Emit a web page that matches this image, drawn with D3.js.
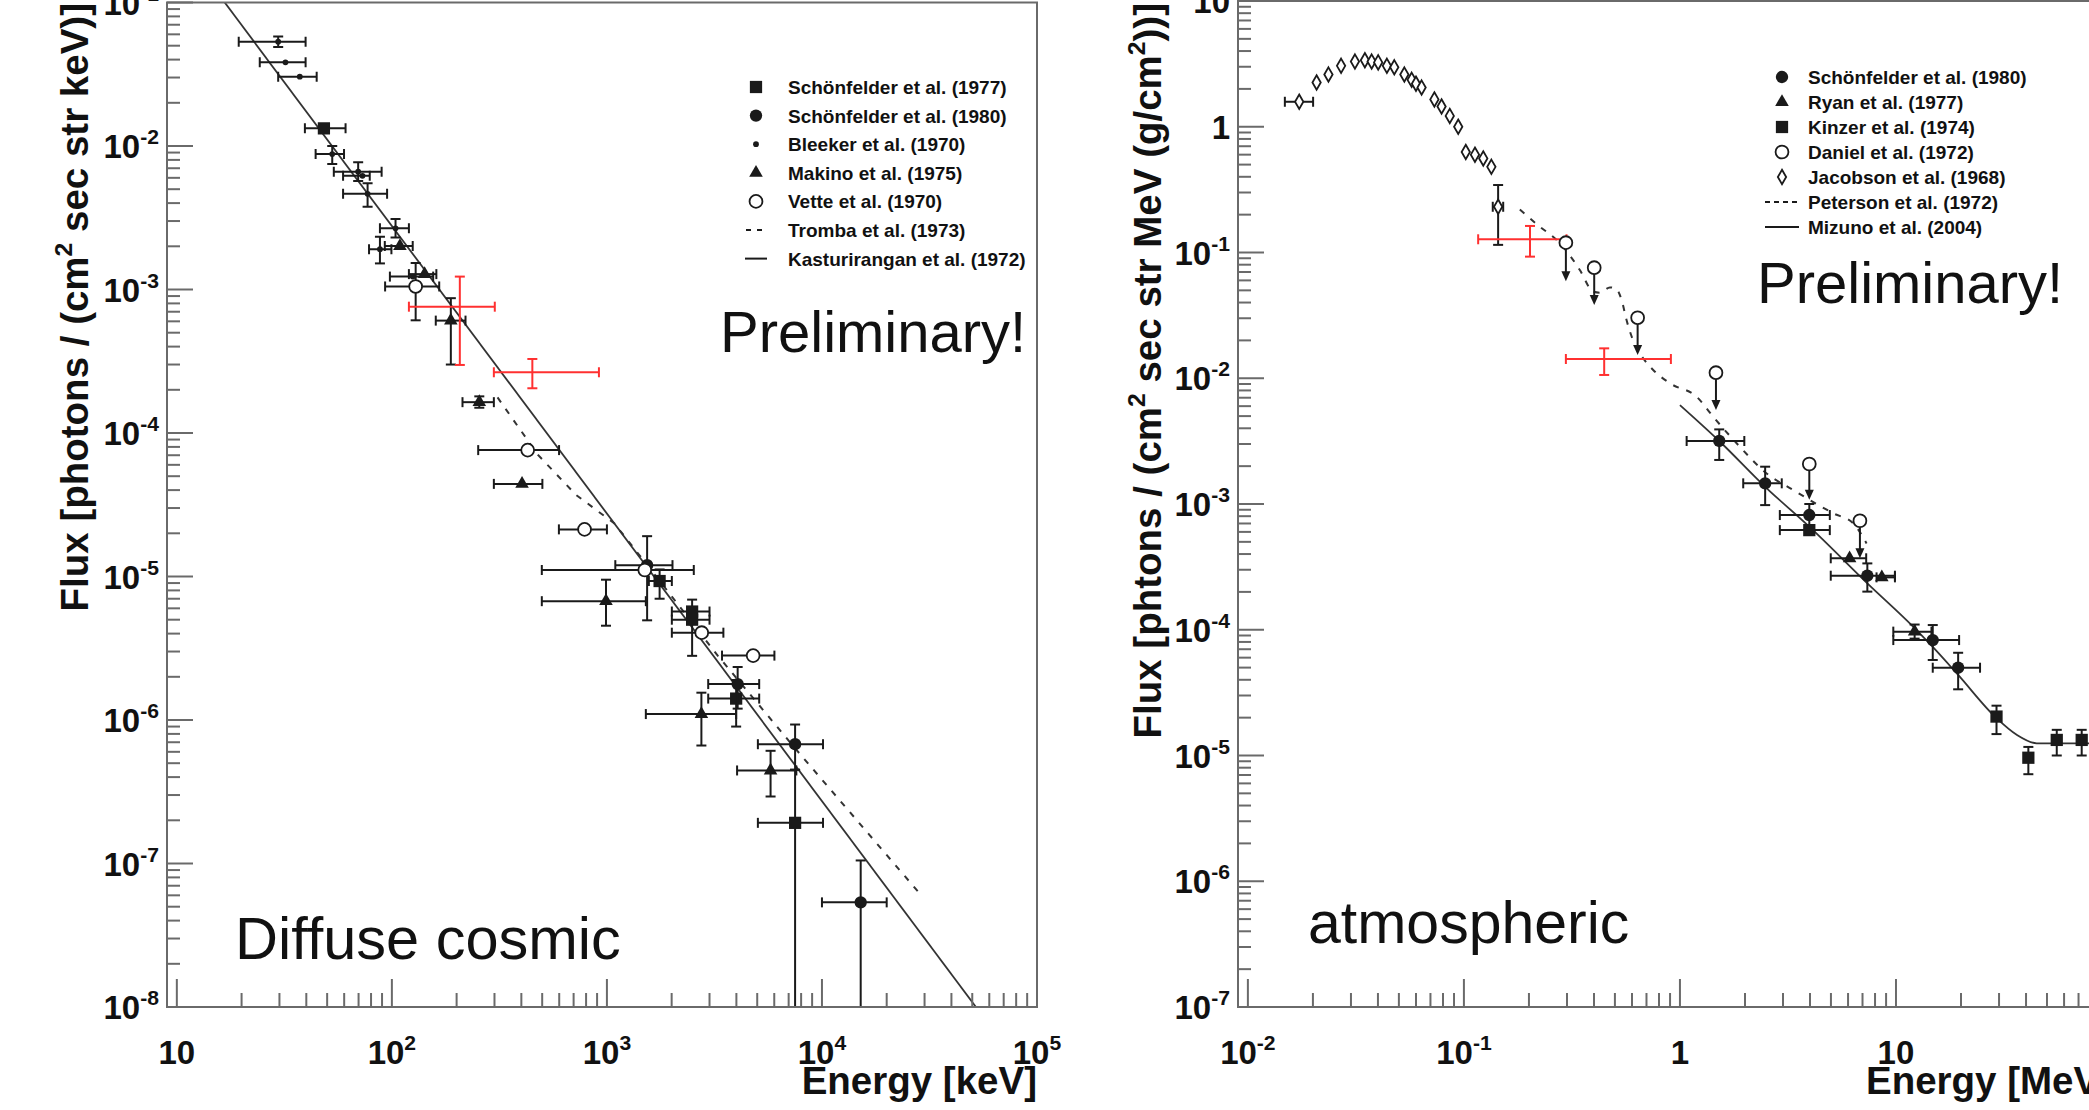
<!DOCTYPE html>
<html><head><meta charset="utf-8">
<script src="https://cdn.jsdelivr.net/npm/d3@7"></script>
<style>
html,body{margin:0;padding:0;background:#fff;overflow:hidden}
svg{display:block}
text{font-family:"Liberation Sans",Arial,Helvetica,sans-serif;fill:#111}
</style></head><body>
<svg id="chart" width="2089" height="1110"></svg>
<script>
// ===== Diffuse cosmic gamma rays (energy in keV) =====
// rows: [E, flux, Emin, Emax, fluxMin, fluxMax]; null = no bar
const schoenfelder1977 = [
  [48.3, 0.01327, 39.4, 60.9, null, null],
  [1758, 9.3e-6, 1567, 2004, 7.0e-6, 1.12e-5],
  [2490, 5.7e-6, 2004, 3000, null, null],
  [2490, 5.0e-6, 2004, 3000, 2.8e-6, 6.9e-6],
  [3990, 1.41e-6, 2958, 5106, 9.0e-7, 1.9e-6],
  [7500, 1.92e-7, 5035, 10115, 1e-9, 4.5e-7]
];
const schoenfelder1980 = [
  [1538, 1.2e-5, 1094, 2018, 4.95e-6, 1.91e-5],
  [4055, 1.78e-6, 2958, 5106, 1.2e-6, 2.34e-6],
  [7500, 6.78e-7, 5035, 10115, 4.5e-7, 9.3e-7],
  [15140, 5.36e-8, 10000, 20000, 1e-9, 1.05e-7]
];
const bleeker1970 = [
  [29.6, 0.0533, 19.4, 39.7, 0.049, 0.058],
  [32.0, 0.0383, 24.3, 39.7, null, null],
  [37.3, 0.0304, 29.6, 44.7, null, null],
  [52.8, 0.00879, 44.2, 59.9, 0.0075, 0.0100],
  [69.7, 0.00662, 53.7, 89.6, 0.0057, 0.0077],
  [73.0, 0.00620, 59.3, 78.9, null, null],
  [77.1, 0.00464, 59.3, 95.0, 0.00377, 0.0055],
  [104, 0.00267, 88.0, 120, 0.0023, 0.0031],
  [88.0, 0.00191, 78.3, 99.5, 0.00152, 0.00233],
  [125, 0.00123, 97.9, 155.6, null, null]
];
const makino1975 = [
  [109, 0.00201, 92.7, 125, null, null],
  [142, 0.00128, 120, 161, null, null],
  [188, 6.07e-4, 160, 220, 3.0e-4, 8.7e-4],
  [255, 1.64e-4, 213, 298, 1.5e-4, 1.8e-4],
  [403, 4.42e-5, 298, 501, null, null],
  [990, 6.73e-6, 498, 1517, 4.54e-6, 9.5e-6],
  [2750, 1.1e-6, 1517, 3990, 6.64e-7, 1.55e-6],
  [5768, 4.45e-7, 4030, 7600, 2.93e-7, 6.1e-7]
];
const vette1970 = [
  [129, 1.05e-3, 93, 166, 6.1e-4, 1.53e-3],
  [428, 7.6e-5, 252, 599, null, null],
  [787, 2.13e-5, 598, 1000, null, null],
  [1500, 1.11e-5, 498, 2535, null, null],
  [2760, 4.06e-6, 2004, 3480, null, null],
  [4786, 2.81e-6, 3430, 6010, null, null]
];
const cosmicThisWork = [
  [207, 7.59e-4, 120, 301, 2.98e-4, 1.23e-3],
  [450, 2.65e-4, 298, 918, 2.05e-4, 3.28e-4]
];
// model curves: [E, flux]
const tromba1973 = [
  [310, 1.77e-4], [477, 7.06e-5], [719, 3.7e-5], [1084, 2.34e-5], [1846, 8.5e-6],
  [3275, 2.81e-6], [7430, 6.45e-7], [28780, 6.07e-8]
];
const kasturirangan1972 = [[16.7, 1e-1], [52000, 1e-8]];

const cosmicXTicks = [1e1, 1e2, 1e3, 1e4, 1e5];
const cosmicXLabels = [["10", ""], ["10", "2"], ["10", "3"], ["10", "4"], ["10", "5"]];
const cosmicYTicks = [1e-8, 1e-7, 1e-6, 1e-5, 1e-4, 1e-3, 1e-2, 1e-1];
const cosmicYLabels = [["10", "-8"], ["10", "-7"], ["10", "-6"], ["10", "-5"], ["10", "-4"], ["10", "-3"], ["10", "-2"], ["10", "-1"]];
const cosmicLegend = ["Schönfelder et al. (1977)", "Schönfelder et al. (1980)", "Bleeker et al. (1970)",
  "Makino et al. (1975)", "Vette et al. (1970)", "Tromba et al. (1973)", "Kasturirangan et al. (1972)"];

// ===== Atmospheric gamma rays (energy in MeV) =====
const schoenfelder1980atm = [
  [1.52, 3.17e-3, 1.074, 1.986, 2.24e-3, 3.92e-3],
  [2.48, 1.46e-3, 1.963, 2.96, 9.8e-4, 1.98e-3],
  [3.97, 8.17e-4, 2.9, 4.94, 6.5e-4, 1.0e-3],
  [7.37, 2.69e-4, 4.99, 9.89, 2.01e-4, 3.37e-4],
  [14.8, 8.28e-5, 9.72, 19.6, 5.75e-5, 1.09e-4],
  [19.4, 4.99e-5, 14.8, 24.5, 3.36e-5, 6.56e-5]
];
const ryan1977 = [
  [6.1, 3.7e-4, 4.99, 7.28, null, null],
  [8.6, 2.61e-4, 8.13, 9.89, null, null],
  [12.2, 9.66e-5, 9.72, 14.6, 8.5e-5, 1.1e-4]
];
const kinzer1974 = [
  [3.97, 6.2e-4, 2.9, 4.94, null, null],
  [29.2, 2.04e-5, null, null, 1.48e-5, 2.49e-5],
  [41.0, 9.6e-6, null, null, 7.1e-6, 1.17e-5],
  [55.5, 1.33e-5, null, null, 1.0e-5, 1.6e-5],
  [72.4, 1.33e-5, null, null, 1.0e-5, 1.6e-5]
];
// upper limits: [E, flux, arrow tip flux]
const daniel1972 = [
  [0.2965, 0.1197, 0.0590], [0.401, 0.0757, 0.0383], [0.637, 0.0303, 0.0153],
  [1.468, 0.01107, 0.0056], [3.97, 2.08e-3, 1.08e-3], [6.81, 7.36e-4, 3.7e-4]
];
const jacobson1968 = [
  [0.01728, 1.58, 0.01483, 0.02004, null, null], [0.0208, 2.25], [0.0236, 2.6], [0.0270, 3.05],
  [0.0313, 3.3], [0.0348, 3.38], [0.0374, 3.3], [0.0401, 3.25], [0.0440, 3.05], [0.0476, 2.97],
  [0.0530, 2.6], [0.0573, 2.36], [0.0600, 2.2], [0.0637, 2.05], [0.0730, 1.65], [0.0788, 1.45],
  [0.0860, 1.22], [0.0941, 1.0], [0.102, 0.63], [0.1125, 0.60], [0.1229, 0.56], [0.134, 0.48],
  [0.144, 0.231, 0.136, 0.152, 0.115, 0.344]
];
const atmoThisWork = [
  [0.2023, 0.1274, 0.1164, 0.2985, 0.0927, 0.1626],
  [0.446, 0.01422, 0.2965, 0.908, 0.01062, 0.01729]
];
const peterson1972 = [
  [0.1815, 0.22], [0.225, 0.160], [0.2685, 0.126], [0.304, 0.0986], [0.344, 0.0726],
  [0.397, 0.0488], [0.427, 0.0479], [0.474, 0.0528], [0.509, 0.0509], [0.537, 0.0419],
  [0.566, 0.029], [0.63, 0.0173], [0.676, 0.0144], [0.752, 0.01164], [0.899, 0.00912],
  [1.195, 0.00713], [1.426, 4.94e-3], [1.83, 3.04e-3], [2.52, 1.75e-3], [3.35, 1.29e-3],
  [5.13, 8.43e-4], [6.34, 7.02e-4], [7.31, 4.86e-4]
];
const mizuno2004 = [
  [1.0, 6.12e-3], [1.52, 3.17e-3], [2.48, 1.37e-3], [3.97, 6.6e-4], [7.37, 2.34e-4],
  [12.0, 1.06e-4], [14.8, 7.3e-5], [19.4, 4.37e-5], [29.2, 1.98e-5], [36.2, 1.46e-5],
  [44.8, 1.25e-5], [78.3, 1.25e-5]
];

const atmoXTicks = [1e-2, 1e-1, 1, 1e1, 1e2];
const atmoXLabels = [["10", "-2"], ["10", "-1"], ["1", ""], ["10", ""], ["10", "2"]];
const atmoYTicks = [1e-7, 1e-6, 1e-5, 1e-4, 1e-3, 1e-2, 1e-1, 1, 10];
const atmoYLabels = [["10", "-7"], ["10", "-6"], ["10", "-5"], ["10", "-4"], ["10", "-3"], ["10", "-2"], ["10", "-1"], ["1", ""], ["10", ""]];
const atmoLegend = ["Schönfelder et al. (1980)", "Ryan et al. (1977)", "Kinzer et al. (1974)",
  "Daniel et al. (1972)", "Jacobson et al. (1968)", "Peterson et al. (1972)", "Mizuno et al. (2004)"];

// ===== drawing =====
const svg = d3.select("#chart");
svg.append("rect").attr("width", 2089).attr("height", 1110).attr("fill", "#fff");

const INK = "#1a1a1a", RED = "#ff3030", AXIS = "#6a6a6a";
const LABEL = 33, TITLE = 38.5;

const sym = {
  square:   {type: d3.symbolSquare, size: 150, fill: INK},
  circle:   {type: d3.symbolCircle, size: 120, fill: INK},
  dot:      {type: d3.symbolCircle, size: 26, fill: INK},
  triangle: {type: d3.symbolTriangle, size: 80, fill: INK},
  open:     {type: d3.symbolCircle, size: 130, fill: "#fff", stroke: INK},
  diamond:  {type: d3.symbolDiamond, size: 60, fill: "#fff", stroke: INK}
};

function drawMarker(g, cx, cy, s) {
  g.append("path").attr("d", d3.symbol().type(s.type).size(s.size)())
    .attr("transform", `translate(${cx},${cy})`)
    .attr("fill", s.fill).attr("stroke", s.stroke || "none").attr("stroke-width", 1.8);
}

function errorBars(g, rows, x, y, color) {
  const cap = 5;
  rows.forEach(r => {
    const [e, f, e0, e1, f0, f1] = r;
    const cx = x(e), cy = y(f);
    const seg = (x1, y1, x2, y2) => g.append("line").attr("x1", x1).attr("y1", y1).attr("x2", x2).attr("y2", y2)
      .attr("stroke", color).attr("stroke-width", 2);
    if (e0 != null) {
      seg(x(e0), cy, x(e1), cy);
      seg(x(e0), cy - cap, x(e0), cy + cap);
      seg(x(e1), cy - cap, x(e1), cy + cap);
    }
    if (f0 != null) {
      seg(cx, y(f0), cx, y(f1));
      seg(cx - cap, y(f0), cx + cap, y(f0));
      seg(cx - cap, y(f1), cx + cap, y(f1));
    }
  });
}

function series(g, rows, x, y, s) {
  errorBars(g, rows, x, y, INK);
  rows.forEach(r => drawMarker(g, x(r[0]), y(r[1]), s));
}

function supText(g, px, py, base, exp, anchor, size) {
  const t = g.append("text").attr("x", px).attr("y", py).attr("text-anchor", anchor)
    .attr("font-size", size).attr("font-weight", "bold");
  t.append("tspan").text(base);
  if (exp) t.append("tspan").attr("dy", -0.42 * size).attr("font-size", size * 0.64).text(exp);
  return t;
}

function panel(opt) {
  const {x, y, xTicks, xLabels, yTicks, yLabels, id} = opt;
  const [x0, x1] = x.range(), [y0, y1] = y.range();
  const g = svg.append("g");

  const clip = svg.append("clipPath").attr("id", id);
  clip.append("rect").attr("x", x0).attr("y", y1).attr("width", x1 - x0).attr("height", y0 - y1);
  const plot = g.append("g").attr("clip-path", `url(#${id})`);

  // ticks: minor decades from the log scale, majors at the powers of ten
  const isMajor = v => Math.abs(Math.log10(v) - Math.round(Math.log10(v))) < 1e-9;
  const ax = g.append("g").attr("stroke", AXIS).attr("stroke-width", 2);
  x.ticks(40).forEach(v => {
    const len = isMajor(v) ? 28 : 14;
    ax.append("line").attr("x1", x(v)).attr("x2", x(v)).attr("y1", y0).attr("y2", y0 - len);
  });
  y.ticks(40).forEach(v => {
    const len = isMajor(v) ? 26 : 13;
    ax.append("line").attr("x1", x0).attr("x2", x0 + len).attr("y1", y(v)).attr("y2", y(v));
  });
  g.append("rect").attr("x", x0).attr("y", y1).attr("width", x1 - x0).attr("height", y0 - y1)
    .attr("fill", "none").attr("stroke", AXIS).attr("stroke-width", 2);

  xTicks.forEach((v, i) => supText(g, x(v), y0 + 57, xLabels[i][0], xLabels[i][1], "middle", LABEL));
  yTicks.forEach((v, i) => supText(g, x0 - 8, y(v) + 12, yLabels[i][0], yLabels[i][1], "end", LABEL));

  // axis titles
  g.append("text").attr("x", x1).attr("y", y0 + 87).attr("text-anchor", "end")
    .attr("font-size", TITLE).attr("font-weight", "bold").text(opt.xTitle);
  const yt = g.append("text").attr("transform", `translate(${opt.yTitleX},3) rotate(-90)`)
    .attr("text-anchor", "end").attr("font-size", TITLE).attr("font-weight", "bold");
  let raised = false;
  opt.yTitle.forEach(([txt, sup]) => {
    if (sup) yt.append("tspan").attr("dy", -0.42 * TITLE).attr("font-size", TITLE * 0.64).text(txt);
    else yt.append("tspan").attr("dy", raised ? 0.42 * TITLE : 0).text(txt);
    raised = !!sup;
  });
  return {g, plot};
}

function legend(g, lx, tx, ly0, dy, items, size) {
  items.forEach((it, i) => {
    const yy = ly0 + i * dy;
    if (it.sym) drawMarker(g, lx, yy, it.sym);
    if (it.dash !== undefined) {
      g.append("line").attr("x1", lx - it.half).attr("x2", lx + it.half).attr("y1", yy).attr("y2", yy)
        .attr("stroke", INK).attr("stroke-width", 2).attr("stroke-dasharray", it.dash || null);
    }
    g.append("text").attr("x", tx).attr("y", yy + 7).attr("font-size", size).attr("font-weight", "bold")
      .attr("fill", "#222").text(it.label);
  });
}

// ---------- left: diffuse cosmic ----------
{
  const x = d3.scaleLog().domain([9, 1e5]).range([167, 1037]);
  const y = d3.scaleLog().domain([1e-8, 1e-1]).range([1007, 2.5]);
  const {g, plot} = panel({
    id: "clipCosmic", x, y, xTicks: cosmicXTicks, xLabels: cosmicXLabels, yTicks: cosmicYTicks, yLabels: cosmicYLabels,
    xTitle: "Energy [keV]", yTitleX: 88,
    yTitle: [["Flux [photons / (cm"], ["2", true], [" sec str keV)]"]]
  });
  const line = d3.line().x(d => x(d[0])).y(d => y(d[1]));
  plot.append("path").attr("d", line(kasturirangan1972)).attr("fill", "none").attr("stroke", "#333").attr("stroke-width", 1.8);
  plot.append("path").attr("d", line(tromba1973)).attr("fill", "none").attr("stroke", "#333")
    .attr("stroke-width", 2).attr("stroke-dasharray", "6 8");
  series(plot, bleeker1970, x, y, sym.dot);
  series(plot, schoenfelder1977, x, y, sym.square);
  series(plot, schoenfelder1980, x, y, sym.circle);
  series(plot, makino1975, x, y, sym.triangle);
  series(plot, vette1970, x, y, sym.open);
  errorBars(plot, cosmicThisWork, x, y, RED);

  legend(g, 756, 788, 87, 28.6, [
    {sym: sym.square, label: cosmicLegend[0]},
    {sym: sym.circle, label: cosmicLegend[1]},
    {sym: sym.dot, label: cosmicLegend[2]},
    {sym: sym.triangle, label: cosmicLegend[3]},
    {sym: sym.open, label: cosmicLegend[4]},
    {dash: "5 6", half: 10, label: cosmicLegend[5]},
    {dash: "", half: 11, label: cosmicLegend[6]}
  ], 19);

  g.append("text").attr("x", 720).attr("y", 352).attr("font-size", 58).attr("fill", "#ff0000").text("Preliminary!");
  g.append("text").attr("x", 235).attr("y", 959).attr("font-size", 59.5).text("Diffuse cosmic");
}

// ---------- right: atmospheric ----------
{
  const x = d3.scaleLog().domain([0.009, 100]).range([1238, 2112]);
  const y = d3.scaleLog().domain([1e-7, 10]).range([1007, 1]);
  const {g, plot} = panel({
    id: "clipAtmo", x, y, xTicks: atmoXTicks, xLabels: atmoXLabels, yTicks: atmoYTicks, yLabels: atmoYLabels,
    xTitle: "Energy [MeV]", yTitleX: 1161,
    yTitle: [["Flux [phtons / (cm"], ["2", true], [" sec str MeV (g/cm"], ["2", true], ["))]"]]
  });
  const curve = d3.line().x(d => x(d[0])).y(d => y(d[1])).curve(d3.curveMonotoneX);
  plot.append("path").attr("d", curve(mizuno2004)).attr("fill", "none")
    .attr("stroke", "#333").attr("stroke-width", 1.8);
  plot.append("path").attr("d", curve(peterson1972))
    .attr("fill", "none").attr("stroke", "#333").attr("stroke-width", 2).attr("stroke-dasharray", "6 8");

  series(plot, jacobson1968.map(r => r.length > 2 ? r : [r[0], r[1], null, null, null, null]), x, y, sym.diamond);
  errorBars(plot, atmoThisWork, x, y, RED);

  // upper limits with downward arrows
  daniel1972.forEach(([e, f, tip]) => {
    const cx = x(e), cy = y(f), ty = y(tip);
    plot.append("line").attr("x1", cx).attr("x2", cx).attr("y1", cy).attr("y2", ty - 8)
      .attr("stroke", INK).attr("stroke-width", 2);
    plot.append("path").attr("d", `M${cx - 4.5},${ty - 10}L${cx + 4.5},${ty - 10}L${cx},${ty}Z`).attr("fill", INK);
    drawMarker(plot, cx, cy, sym.open);
  });
  series(plot, schoenfelder1980atm, x, y, sym.circle);
  series(plot, ryan1977, x, y, sym.triangle);
  series(plot, kinzer1974, x, y, sym.square);

  legend(g, 1782, 1808, 77, 25, [
    {sym: sym.circle, label: atmoLegend[0]},
    {sym: sym.triangle, label: atmoLegend[1]},
    {sym: sym.square, label: atmoLegend[2]},
    {sym: sym.open, label: atmoLegend[3]},
    {sym: sym.diamond, label: atmoLegend[4]},
    {dash: "5 4", half: 17, label: atmoLegend[5]},
    {dash: "", half: 17, label: atmoLegend[6]}
  ], 19);

  g.append("text").attr("x", 1757).attr("y", 303).attr("font-size", 58).attr("fill", "#ff0000").text("Preliminary!");
  g.append("text").attr("x", 1308).attr("y", 943).attr("font-size", 59).text("atmospheric");
}
</script>
</body></html>
